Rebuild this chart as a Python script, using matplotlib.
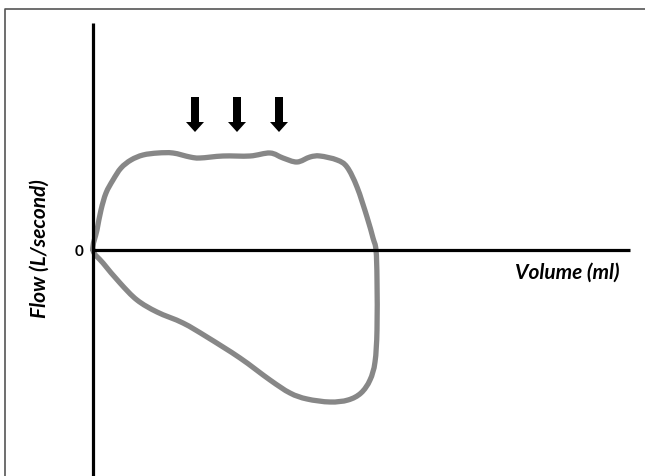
import numpy as np
import matplotlib.pyplot as plt
from matplotlib.path import Path
from matplotlib.patches import PathPatch

# loop (volume right, flow up; origin at the axes crossing)
vol_up = [0, 4, 8, 13, 20, 28, 38, 50, 65, 80, 97, 107, 130, 157, 177, 190, 204, 217, 227, 244, 254, 264, 274, 280, 283]
flow_up = [0, 20, 40, 57, 70, 82, 90, 95, 97, 97, 93, 92, 94, 94, 97, 92, 88, 93, 94, 90, 83, 63, 33, 12, 0]
vol_down = [283, 284, 284, 282, 277, 268, 255, 237, 214, 197, 177, 147, 114, 90, 64, 44, 27, 10, 0]
flow_down = [0, -30, -80, -112, -130, -143, -150, -152, -149, -143, -130, -108, -87, -73, -62, -50, -33, -13, 0]

arrow_vol = [102, 144, 186]
arrow_top = 153
arrow_len = 35

fig = plt.figure(figsize=(6.45, 4.76), dpi=100)
ax = fig.add_axes([0, 0, 1, 1])
ax.set_xlim(-93, 552)
ax.set_ylim(-226, 250)
ax.axis('off')

# partial frame around the picture (top and left only)
ax.plot([-88, -88, 552], [-226, 241.5, 241.5], color='#555555', lw=1.2)

# axes lines
ax.plot([0, 0], [-226, 227.5], color='black', lw=2.3, solid_capstyle='butt')
ax.plot([0, 537], [0, 0], color='black', lw=2.3, solid_capstyle='butt')

# smooth closed loop through points
vx = np.array(vol_up + vol_down[1:])
vy = np.array(flow_up + flow_down[1:])
n = len(vx) - 1
pts = np.column_stack([vx[:-1], vy[:-1]])
verts, codes = [], []
for i in range(n):
    p0, p1, p2, p3 = pts[(i - 1) % n], pts[i], pts[(i + 1) % n], pts[(i + 2) % n]
    c1 = p1 + (p2 - p0) / 6
    c2 = p2 - (p3 - p1) / 6
    if i == 0:
        verts.append(p1)
        codes.append(Path.MOVETO)
    verts += [c1, c2, p2]
    codes += [Path.CURVE4] * 3
ax.add_patch(PathPatch(Path(verts, codes), facecolor='none', edgecolor='#878787',
                       lw=3.8, capstyle='round', joinstyle='round'))

for v in arrow_vol:
    ax.arrow(v, arrow_top, 0, -arrow_len + 10, width=8, head_width=18,
             head_length=10, length_includes_head=False, color='black', lw=0)

ax.text(-10, -2, '0', ha='right', va='center', fontsize=11, fontweight='bold',
        family='Lato')
ax.text(-53, 1, 'Flow (L/second)', rotation=90, ha='center', va='center',
        fontsize=15, fontweight='bold', fontstyle='italic', family='Lato')
ax.text(474, -23, 'Volume (ml)', ha='center', va='center',
        fontsize=15, fontweight='bold', fontstyle='italic', family='Lato')

fig.savefig('out.png', dpi=100, facecolor='white')
